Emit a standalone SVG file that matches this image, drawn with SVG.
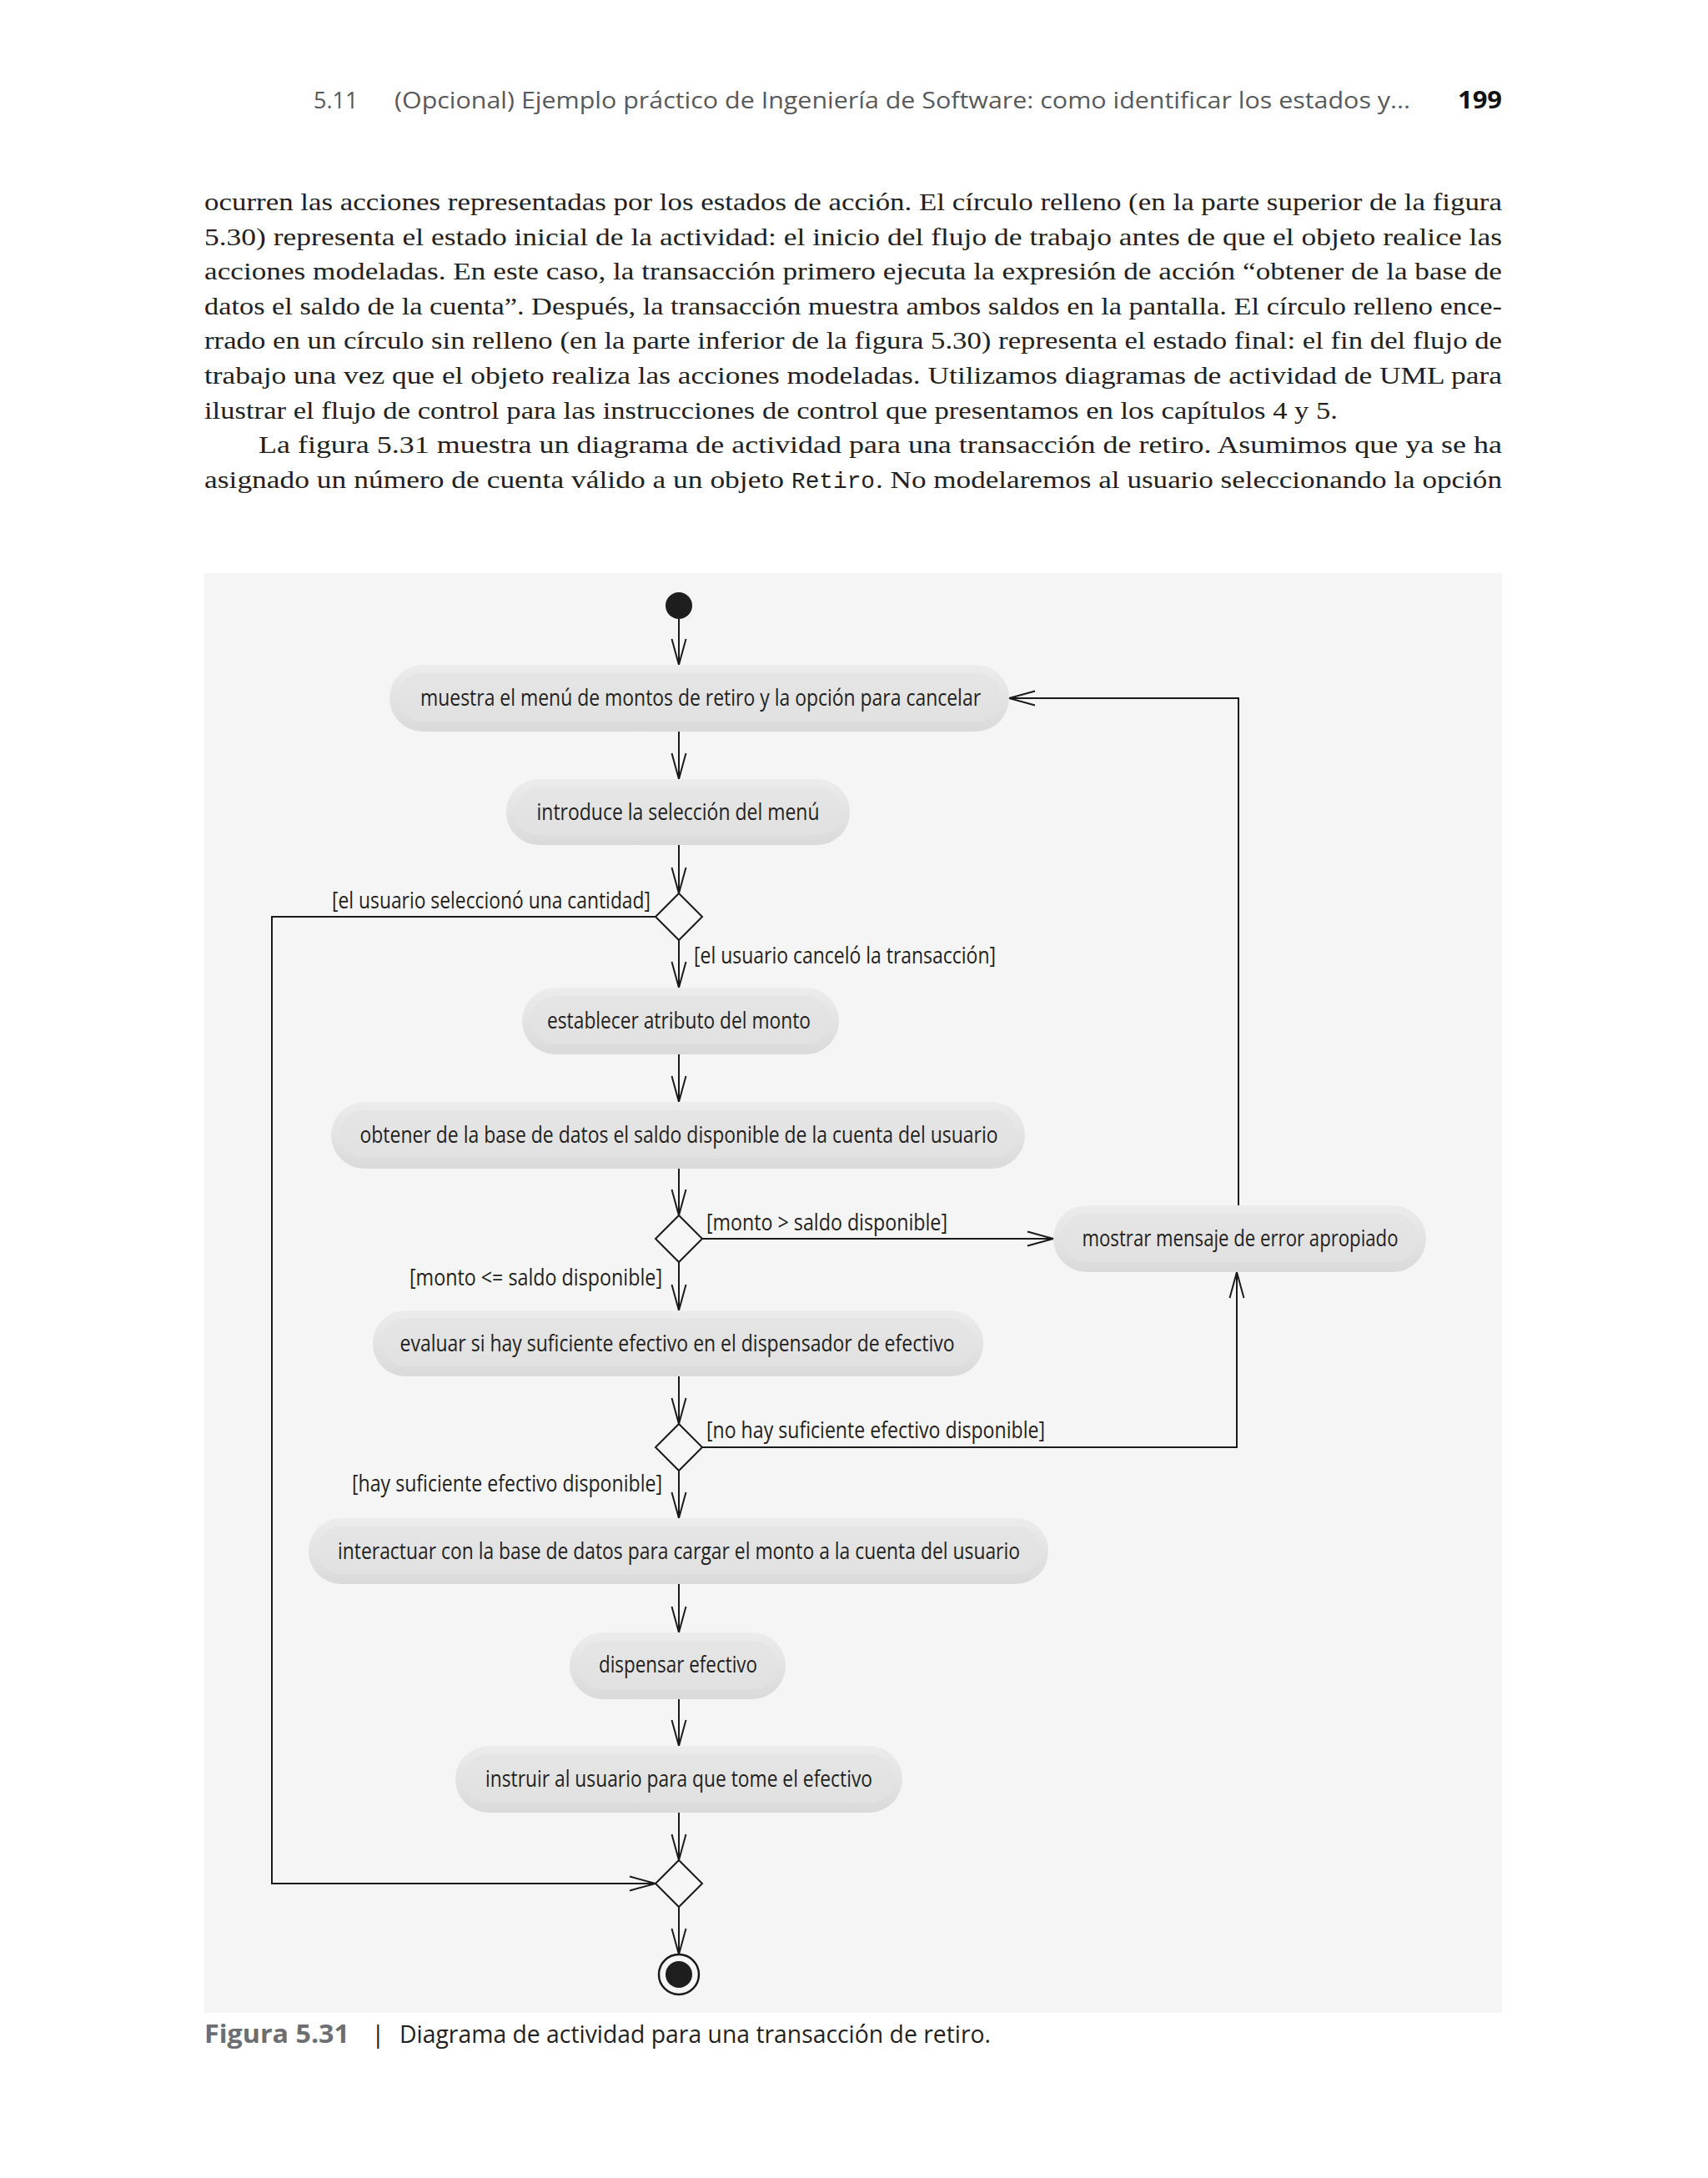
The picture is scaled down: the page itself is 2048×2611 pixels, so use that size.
<svg xmlns="http://www.w3.org/2000/svg" width="2048" height="2611" viewBox="0 0 2048 2611">
<style>
.hdr{font-family:"Open Sans","Noto Sans",sans-serif;font-size:27px;fill:#58595b}
.pg{font-family:"Open Sans","Noto Sans",sans-serif;font-size:28px;font-weight:bold;fill:#111}
.body{font-family:"Liberation Serif","Times New Roman",serif;font-size:30px;fill:#231f20}
.mono{font-family:"Liberation Mono","DejaVu Sans Mono",monospace;font-size:27px;fill:#231f20}
.nt{font-family:"Open Sans","Noto Sans",sans-serif;font-size:27px;fill:#231f20;text-anchor:middle}
.lb{font-family:"Open Sans","Noto Sans",sans-serif;font-size:27px;fill:#231f20}
.cap{font-family:"Open Sans","Noto Sans",sans-serif;font-size:30px}
.nb{fill:url(#gOut)}
.ni{fill:url(#gIn)}
.cn{fill:none;stroke:#1a1a1a;stroke-width:2;marker-end:url(#arr)}
.dm{fill:#f7f6f6;stroke:#1a1a1a;stroke-width:2}
</style>
<defs>
<linearGradient id="gOut" x1="0" y1="0" x2="0" y2="1">
<stop offset="0" stop-color="#ececec"/><stop offset="1" stop-color="#dadada"/>
</linearGradient>
<linearGradient id="gIn" x1="0" y1="0" x2="0" y2="1">
<stop offset="0" stop-color="#e5e5e5"/><stop offset="1" stop-color="#e1e1e1"/>
</linearGradient>
<marker id="arr" markerUnits="userSpaceOnUse" viewBox="-33 -10 35 20" refX="0" refY="0" markerWidth="35" markerHeight="20" orient="auto" overflow="visible">
<path d="M-31,-8.5 L0,0 L-31,8.5" fill="none" stroke="#1a1a1a" stroke-width="2"/>
</marker>
</defs>
<rect width="2048" height="2611" fill="#ffffff"/>

<g id="header">
<text class="hdr" x="376" y="130">5.11</text>
<text class="hdr" x="473" y="130" textLength="1218" lengthAdjust="spacingAndGlyphs">(Opcional) Ejemplo práctico de Ingeniería de Software: como identificar los estados y...</text>
<text class="pg" x="1748" y="130" textLength="53" lengthAdjust="spacingAndGlyphs">199</text>
</g>

<g id="bodytext">
<text class="body" x="245" y="252" textLength="1556" lengthAdjust="spacingAndGlyphs">ocurren las acciones representadas por los estados de acción. El círculo relleno (en la parte superior de la figura</text>
<text class="body" x="245" y="294" textLength="1556" lengthAdjust="spacingAndGlyphs">5.30) representa el estado inicial de la actividad: el inicio del flujo de trabajo antes de que el objeto realice las</text>
<text class="body" x="245" y="335" textLength="1556" lengthAdjust="spacingAndGlyphs">acciones modeladas. En este caso, la transacción primero ejecuta la expresión de acción “obtener de la base de</text>
<text class="body" x="245" y="377" textLength="1556" lengthAdjust="spacingAndGlyphs">datos el saldo de la cuenta”. Después, la transacción muestra ambos saldos en la pantalla. El círculo relleno ence-</text>
<text class="body" x="245" y="418" textLength="1556" lengthAdjust="spacingAndGlyphs">rrado en un círculo sin relleno (en la parte inferior de la figura 5.30) representa el estado final: el fin del flujo de</text>
<text class="body" x="245" y="460" textLength="1556" lengthAdjust="spacingAndGlyphs">trabajo una vez que el objeto realiza las acciones modeladas. Utilizamos diagramas de actividad de UML para</text>
<text class="body" x="245" y="502" textLength="1359" lengthAdjust="spacingAndGlyphs">ilustrar el flujo de control para las instrucciones de control que presentamos en los capítulos 4 y 5.</text>
<text class="body" x="310" y="543" textLength="1491" lengthAdjust="spacingAndGlyphs">La figura 5.31 muestra un diagrama de actividad para una transacción de retiro. Asumimos que ya se ha</text>
<text class="body" x="245" y="585" textLength="695" lengthAdjust="spacingAndGlyphs">asignado un número de cuenta válido a un objeto</text>
<text class="mono" x="949" y="585" textLength="100" lengthAdjust="spacingAndGlyphs">Retiro</text>
<text class="body" x="1050" y="585" textLength="751" lengthAdjust="spacingAndGlyphs">. No modelaremos al usuario seleccionando la opción</text>
</g>

<rect id="panel" x="245" y="687" width="1556" height="1726" fill="#f6f5f5"/>

<g id="connectors">
<path class="cn" d="M814 742 L814 797"/>
<path class="cn" d="M814 877 L814 934"/>
<path class="cn" d="M814 1013 L814 1071"/>
<path class="cn" d="M814 1127 L814 1184"/>
<path class="cn" d="M814 1264 L814 1321"/>
<path class="cn" d="M814 1401 L814 1457"/>
<path class="cn" d="M842 1485 L1263 1485"/>
<path class="cn" d="M814 1513 L814 1571"/>
<path class="cn" d="M814 1650 L814 1707"/>
<path class="cn" d="M842 1735 L1483 1735 L1483 1525"/>
<path class="cn" d="M1485 1445 L1485 837 L1210 837"/>
<path class="cn" d="M814 1763 L814 1820"/>
<path class="cn" d="M814 1899 L814 1957"/>
<path class="cn" d="M814 2037 L814 2093"/>
<path class="cn" d="M814 2173 L814 2230"/>
<path class="cn" d="M786 1099 L326 1099 L326 2258 L786 2258"/>
<path class="cn" d="M814 2286 L814 2343"/>
<text class="lb" x="398" y="1089" textLength="382" lengthAdjust="spacingAndGlyphs">[el usuario seleccionó una cantidad]</text>
<text class="lb" x="832" y="1155" textLength="362" lengthAdjust="spacingAndGlyphs">[el usuario canceló la transacción]</text>
<text class="lb" x="847" y="1475" textLength="289" lengthAdjust="spacingAndGlyphs">[monto &gt; saldo disponible]</text>
<text class="lb" x="491" y="1541" textLength="303" lengthAdjust="spacingAndGlyphs">[monto &lt;= saldo disponible]</text>
<text class="lb" x="847" y="1724" textLength="406" lengthAdjust="spacingAndGlyphs">[no hay suficiente efectivo disponible]</text>
<text class="lb" x="422" y="1788" textLength="372" lengthAdjust="spacingAndGlyphs">[hay suficiente efectivo disponible]</text>
</g>

<g id="initial"><circle cx="814" cy="726" r="16" fill="#1e1e1e"/></g>

<g id="n1">
<rect class="nb" x="467" y="797" width="743" height="80" rx="40"/>
<rect class="ni" x="477" y="807" width="723" height="58" rx="29"/>
<text class="nt" x="840" y="846" textLength="672" lengthAdjust="spacingAndGlyphs">muestra el menú de montos de retiro y la opción para cancelar</text>
</g>
<g id="n2">
<rect class="nb" x="607" y="934" width="412" height="79" rx="39"/>
<rect class="ni" x="617" y="944" width="392" height="57" rx="28"/>
<text class="nt" x="813" y="983" textLength="339" lengthAdjust="spacingAndGlyphs">introduce la selección del menú</text>
</g>
<g id="d1"><path class="dm" d="M814 1071 L842 1099 L814 1127 L786 1099 Z"/></g>
<g id="n3">
<rect class="nb" x="626" y="1184" width="380" height="80" rx="40"/>
<rect class="ni" x="636" y="1194" width="360" height="58" rx="29"/>
<text class="nt" x="814" y="1233" textLength="316" lengthAdjust="spacingAndGlyphs">establecer atributo del monto</text>
</g>
<g id="n4">
<rect class="nb" x="397" y="1321" width="832" height="80" rx="40"/>
<rect class="ni" x="407" y="1331" width="812" height="58" rx="29"/>
<text class="nt" x="814" y="1370" textLength="765" lengthAdjust="spacingAndGlyphs">obtener de la base de datos el saldo disponible de la cuenta del usuario</text>
</g>
<g id="d2"><path class="dm" d="M814 1457 L842 1485 L814 1513 L786 1485 Z"/></g>
<g id="nerr">
<rect class="nb" x="1263" y="1445" width="447" height="80" rx="40"/>
<rect class="ni" x="1273" y="1455" width="427" height="58" rx="29"/>
<text class="nt" x="1487" y="1494" textLength="379" lengthAdjust="spacingAndGlyphs">mostrar mensaje de error apropiado</text>
</g>
<g id="n5">
<rect class="nb" x="447" y="1571" width="732" height="79" rx="39"/>
<rect class="ni" x="457" y="1581" width="712" height="57" rx="28"/>
<text class="nt" x="812" y="1620" textLength="665" lengthAdjust="spacingAndGlyphs">evaluar si hay suficiente efectivo en el dispensador de efectivo</text>
</g>
<g id="d3"><path class="dm" d="M814 1707 L842 1735 L814 1763 L786 1735 Z"/></g>
<g id="n6">
<rect class="nb" x="370" y="1820" width="887" height="79" rx="39"/>
<rect class="ni" x="380" y="1830" width="867" height="57" rx="28"/>
<text class="nt" x="814" y="1869" textLength="818" lengthAdjust="spacingAndGlyphs">interactuar con la base de datos para cargar el monto a la cuenta del usuario</text>
</g>
<g id="n7">
<rect class="nb" x="683" y="1957" width="259" height="80" rx="40"/>
<rect class="ni" x="693" y="1967" width="239" height="58" rx="29"/>
<text class="nt" x="813" y="2005" textLength="190" lengthAdjust="spacingAndGlyphs">dispensar efectivo</text>
</g>
<g id="n8">
<rect class="nb" x="546" y="2093" width="536" height="80" rx="40"/>
<rect class="ni" x="556" y="2103" width="516" height="58" rx="29"/>
<text class="nt" x="814" y="2142" textLength="464" lengthAdjust="spacingAndGlyphs">instruir al usuario para que tome el efectivo</text>
</g>
<g id="d4"><path class="dm" d="M814 2230 L842 2258 L814 2286 L786 2258 Z"/></g>
<g id="final">
<circle cx="814" cy="2367" r="24" fill="#f7f6f6" stroke="#1a1a1a" stroke-width="2.5"/>
<circle cx="814" cy="2367" r="16" fill="#1e1e1e"/>
</g>

<g id="caption">
<text class="cap" x="245" y="2449" font-weight="bold" fill="#6d6e71" textLength="174" lengthAdjust="spacingAndGlyphs">Figura 5.31</text>
<text class="cap" x="445" y="2449" fill="#231f20">|</text>
<text class="cap" x="479" y="2449" fill="#231f20" textLength="709" lengthAdjust="spacingAndGlyphs">Diagrama de actividad para una transacción de retiro.</text>
</g>
</svg>
